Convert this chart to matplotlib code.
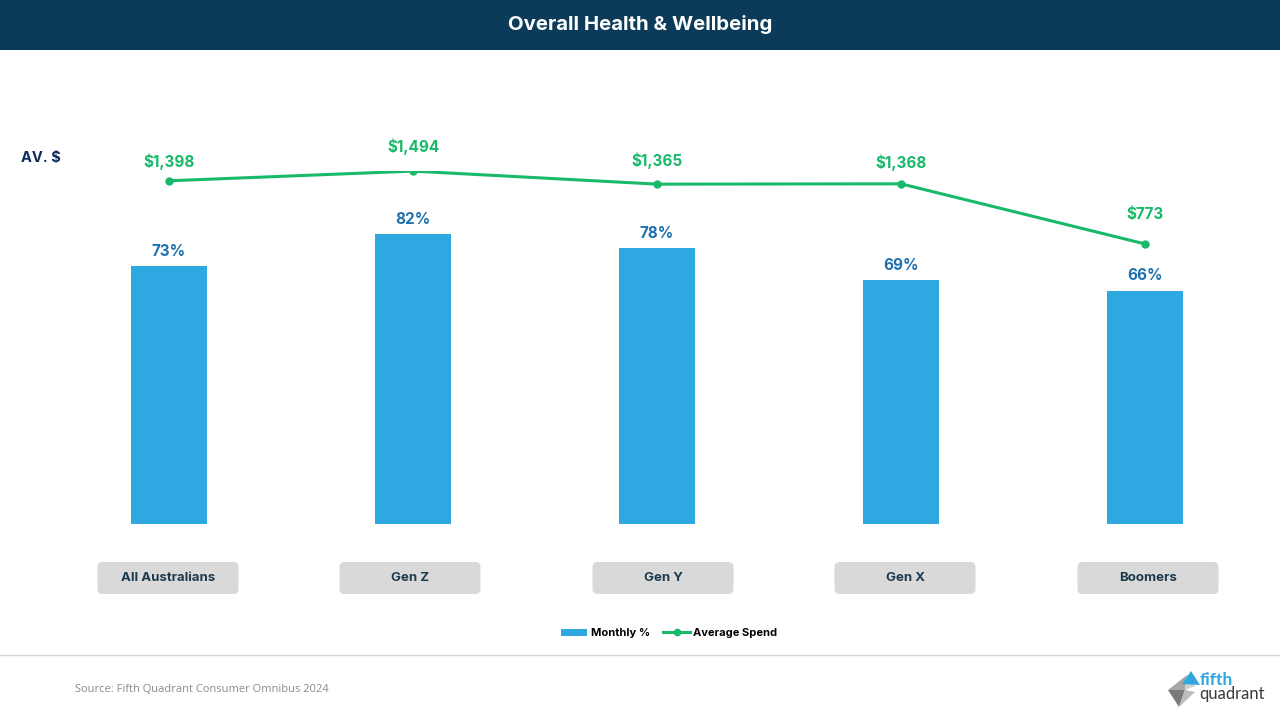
import numpy as np
import matplotlib
matplotlib.use("Agg")
import matplotlib.pyplot as plt
from matplotlib.patches import FancyBboxPatch, Rectangle, Polygon
from matplotlib.lines import Line2D

## Data
categories = ["All Australians", "Gen Z", "Gen Y", "Gen X", "Boomers"]
monthly_pct = [73, 82, 78, 69, 66]
avg_spend = [1398, 1494, 1365, 1368, 773]

# label box centres (pixels) - they are not evenly spaced in the source slide
box_cx = [168, 410, 663, 905, 1148]
# spend labels were placed by hand on the slide: offset above point, in points
spend_dy = [14, 18, 17, 15, 21]

# Colours
navy = "#0b3b58"
bar_blue = "#2ea8e0"
lbl_blue = "#1f72b0"
green = "#19b96a"
box_grey = "#d9d9d9"
cat_text = "#1d3a4f"

plt.rcParams['font.family'] = ['Inter', 'DejaVu Sans']

fig = plt.figure(figsize=(12.8, 7.2), dpi=100)
W, H = 1280, 720

# Header band
fig.patches.append(Rectangle((0, 1 - 50 / H), 1, 50 / H, transform=fig.transFigure,
                             facecolor=navy, edgecolor="none", zorder=0))
fig.text(0.5, 1 - 25 / H, "Overall Health & Wellbeing", color="white", fontsize=14.7,
         fontweight="bold", ha="center", va="center")

# Main axes (bars)
ax = fig.add_axes([47 / W, (H - 524) / H, 1220 / W, 353.5 / H])
x = np.arange(len(categories))
ax.bar(x, monthly_pct, width=0.315, color=bar_blue, zorder=2)
ax.set_xlim(-0.5, len(categories) - 0.5)
ax.set_ylim(0, 100)
ax.axis("off")
for xi, v in zip(x, monthly_pct):
    ax.annotate("%d%%" % v, (xi, v), xytext=(0, 7.5), textcoords="offset points",
                ha="center", va="baseline", color=lbl_blue, fontsize=11, fontweight="bold")

# Secondary axes (line)
ax2 = ax.twinx()
ax2.plot(x, avg_spend, color=green, lw=2.2, marker="o", ms=5, zorder=3)
ax2.set_ylim(-2000, 1500)
ax2.axis("off")
for xi, v, dy in zip(x, avg_spend, spend_dy):
    ax2.annotate("${:,}".format(v), (xi, v), xytext=(0, dy), textcoords="offset points",
                 ha="center", va="center", color=green, fontsize=11, fontweight="bold")

fig.text(21 / W, 1 - 158 / H, "AV. $", color="#0e2a5c", fontsize=10.5,
         fontweight="bold", ha="left", va="center")

# Category label boxes
for cx, name in zip(box_cx, categories):
    bw, bh = 141, 32
    box = FancyBboxPatch(((cx - bw / 2) / 100, (H - 594) / 100), bw / 100, bh / 100,
                         boxstyle="round,pad=0,rounding_size=0.05",
                         transform=fig.dpi_scale_trans, facecolor=box_grey,
                         edgecolor="none")
    fig.patches.append(box)
    fig.text(cx / W, 1 - 578 / H, name, color=cat_text, fontsize=9.5,
             fontweight="bold", ha="center", va="center")

# Legend
handles = [Rectangle((0, 0), 1, 1, facecolor=bar_blue, edgecolor="none"),
           Line2D([], [], color=green, lw=2.2, marker="o", ms=4.5)]
leg = fig.legend(handles, ["Monthly %", "Average Spend"], loc="center",
                 bbox_to_anchor=(669 / W, 1 - 633 / H), ncol=2, frameon=False,
                 prop={"size": 8, "weight": "bold"}, handlelength=2.4,
                 handleheight=0.6, columnspacing=1.2, handletextpad=0.3)

# Footer
fig.lines.append(Line2D([0, 1], [1 - 655 / H, 1 - 655 / H], transform=fig.transFigure,
                        color="#d9d9d9", lw=1))
fig.text(75 / W, 1 - 689 / H, "Source: Fifth Quadrant Consumer Omnibus 2024",
         color="#8a8a8a", fontsize=8, family=["Open Sans", "DejaVu Sans"],
         ha="left", va="center")

# Logo (rough pinwheel shape)
lg = fig.add_axes([1165 / W, (H - 710) / H, 40 / W, 40 / H])
lg.set_xlim(0, 40)
lg.set_ylim(0, 40)
lg.axis("off")
lg.add_patch(Polygon([[3, 20], [22, 35], [20, 20]], facecolor="#a6a6a6", edgecolor="none"))
lg.add_patch(Polygon([[3, 20], [20, 20], [14, 3]], facecolor="#7a7a7a", edgecolor="none"))
lg.add_patch(Polygon([[20, 20], [14, 3], [30, 18]], facecolor="#bdbdbd", edgecolor="none"))
lg.add_patch(Polygon([[22, 35], [20, 20], [30, 24]], facecolor="#d0d0d0", edgecolor="none"))
lg.add_patch(Polygon([[17, 26], [26, 39], [35, 25]], facecolor="#2ea8e0", edgecolor="none"))
fig.text(1200 / W, 1 - 680 / H, "fifth", color="#2ea8e0", fontsize=12.5,
         ha="left", va="center", fontweight="bold", family=["Lato", "DejaVu Sans"])
fig.text(1199 / W, 1 - 694 / H, "quadrant", color="#3a3a3a", fontsize=12,
         ha="left", va="center", family=["Lato", "DejaVu Sans"])

fig.savefig("out.png", dpi=100)
